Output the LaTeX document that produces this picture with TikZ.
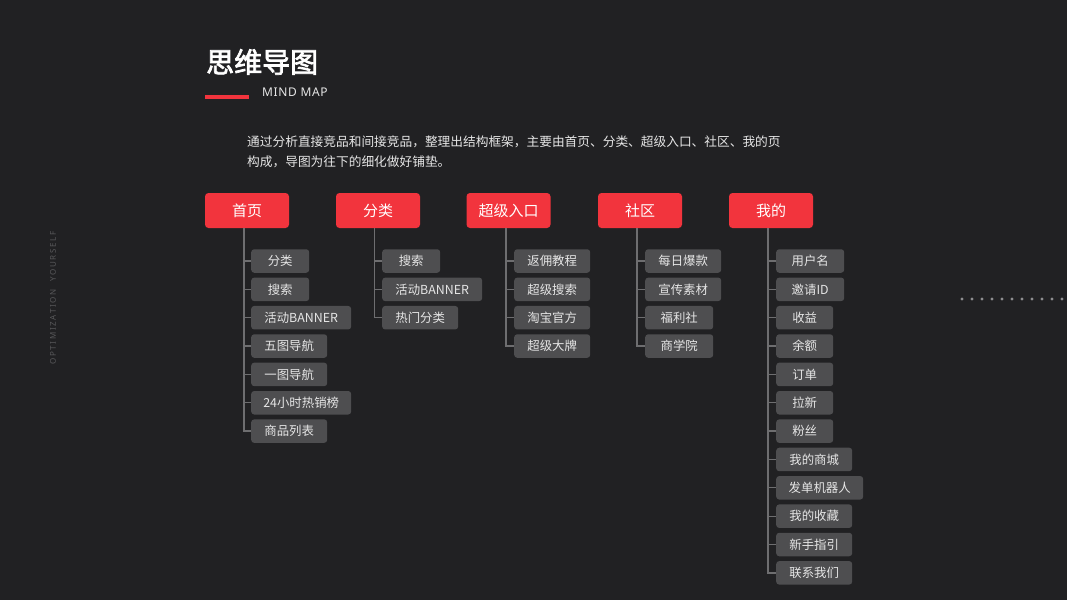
\documentclass[tikz,border=0pt]{standalone}
\usepackage{fontspec}
\setmainfont{Noto Sans}
\newfontfamily\cjk{Noto Sans CJK SC}
\newfontfamily\cjkbold{Noto Sans CJK SC}[FakeBold=2.5]
\newfontfamily\spaced{Noto Sans}[LetterSpace=21]
\newfontfamily\mmfont{Noto Sans}[LetterSpace=5]
\definecolor{bg}{HTML}{212123}
\definecolor{mainred}{HTML}{F2343D}
\definecolor{subgray}{HTML}{4E4E50}
\definecolor{subtext}{HTML}{E6E6E6}
\definecolor{conncol}{HTML}{6E6E70}
\definecolor{sidecol}{HTML}{58585A}
\definecolor{dotcol}{HTML}{8E8E90}
\tikzset{
  mainbox/.style={fill=mainred, rounded corners=3.5, minimum width=84, minimum height=35, inner sep=0, text=white, font=\cjk\fontsize{15}{15}\selectfont},
  subbox/.style={fill=subgray, rounded corners=3, minimum height=23.5, inner sep=0, anchor=west, text=subtext, font=\cjk\fontsize{12.4}{12.4}\selectfont},
  conn/.style={draw=conncol, line width=1.3},
}
\begin{document}
\begin{tikzpicture}[x=1pt,y=-1pt]
\fill[bg] (0,0) rectangle (1067,600);
\useasboundingbox (0,0) rectangle (1067,600);
% title
\node[anchor=west, inner sep=0, text=white, font=\cjkbold\fontsize{28}{28}\selectfont] (title) at (206,62) {思维导图};
\fill[mainred] (205,95) rectangle (249,99);
\node[anchor=base west, inner sep=0, text=subtext, font=\mmfont\fontsize{12}{12}\selectfont] (mm) at (262,96) {MIND MAP};
\node[anchor=west, inner sep=0, align=left, text=subtext, font=\cjk\fontsize{12.7}{20}\selectfont] (para) at (247,152) {通过分析直接竞品和间接竞品，整理出结构框架，主要由首页、分类、超级入口、社区、我的页\\构成，导图为往下的细化做好铺垫。};
% side text
\node[rotate=90, inner sep=0, text=sidecol, font=\spaced\fontsize{8}{8}\selectfont] (side) at (53,298) {OPTIMIZATION\ \ YOURSELF};
% dots
\foreach \i in {0,...,10} {\fill[dotcol] (962+10*\i,299) circle (1.7);}
% main boxes
\node[mainbox] (m1) at (247,210.5) {首页};
\node[mainbox] (m2) at (378,210.5) {分类};
\node[mainbox] (m3) at (508.5,210.5) {超级入口};
\node[mainbox] (m4) at (640,210.5) {社区};
\node[mainbox] (m5) at (771,210.5) {我的};
% column 1
\node[subbox, minimum width=58] (a1) at (251,261) {分类};
\node[subbox, minimum width=58] (a2) at (251,289.35) {搜索};
\node[subbox, minimum width=100] (a3) at (251,317.7) {活动BANNER};
\node[subbox, minimum width=76] (a4) at (251,346.05) {五图导航};
\node[subbox, minimum width=76] (a5) at (251,374.4) {一图导航};
\node[subbox, minimum width=100] (a6) at (251,402.75) {24小时热销榜};
\node[subbox, minimum width=76] (a7) at (251,431.1) {商品列表};
% column 2
\node[subbox, minimum width=58] (b1) at (382,261) {搜索};
\node[subbox, minimum width=100] (b2) at (382,289.35) {活动BANNER};
\node[subbox, minimum width=76] (b3) at (382,317.7) {热门分类};
% column 3
\node[subbox, minimum width=76] (c1) at (514,261) {返佣教程};
\node[subbox, minimum width=76] (c2) at (514,289.35) {超级搜索};
\node[subbox, minimum width=76] (c3) at (514,317.7) {淘宝官方};
\node[subbox, minimum width=76] (c4) at (514,346.05) {超级大牌};
% column 4
\node[subbox, minimum width=76] (d1) at (645,261) {每日爆款};
\node[subbox, minimum width=76] (d2) at (645,289.35) {宣传素材};
\node[subbox, minimum width=68] (d3) at (645,317.7) {福利社};
\node[subbox, minimum width=68] (d4) at (645,346.05) {商学院};
% column 5
\node[subbox, minimum width=68] (e1) at (776,261) {用户名};
\node[subbox, minimum width=68] (e2) at (776,289.35) {邀请ID};
\node[subbox, minimum width=57] (e3) at (776,317.7) {收益};
\node[subbox, minimum width=57] (e4) at (776,346.05) {余额};
\node[subbox, minimum width=57] (e5) at (776,374.4) {订单};
\node[subbox, minimum width=57] (e6) at (776,402.75) {拉新};
\node[subbox, minimum width=57] (e7) at (776,431.1) {粉丝};
\node[subbox, minimum width=76] (e8) at (776,459.45) {我的商城};
\node[subbox, minimum width=87] (e9) at (776,487.8) {发单机器人};
\node[subbox, minimum width=76] (e10) at (776,516.15) {我的收藏};
\node[subbox, minimum width=76] (e11) at (776,544.5) {新手指引};
\node[subbox, minimum width=76] (e12) at (776,572.85) {联系我们};
% trunk coordinates
\coordinate (t1) at (244,228);
\coordinate (t2) at (374.5,228);
\coordinate (t3) at (506,228);
\coordinate (t4) at (637,228);
\coordinate (t5) at (768,228);
% connectors
\draw[conn] (t1) |- (a7.west);
\foreach \n in {a1,a2,a3,a4,a5,a6} {\draw[conn] (t1 |- \n.west) -- (\n.west);}
\draw[conn] (t2) |- (b3.west);
\foreach \n in {b1,b2} {\draw[conn] (t2 |- \n.west) -- (\n.west);}
\draw[conn] (t3) |- (c4.west);
\foreach \n in {c1,c2,c3} {\draw[conn] (t3 |- \n.west) -- (\n.west);}
\draw[conn] (t4) |- (d4.west);
\foreach \n in {d1,d2,d3} {\draw[conn] (t4 |- \n.west) -- (\n.west);}
\draw[conn] (t5) |- (e12.west);
\foreach \n in {e1,e2,e3,e4,e5,e6,e7,e8,e9,e10,e11} {\draw[conn] (t5 |- \n.west) -- (\n.west);}
\end{tikzpicture}
\end{document}
